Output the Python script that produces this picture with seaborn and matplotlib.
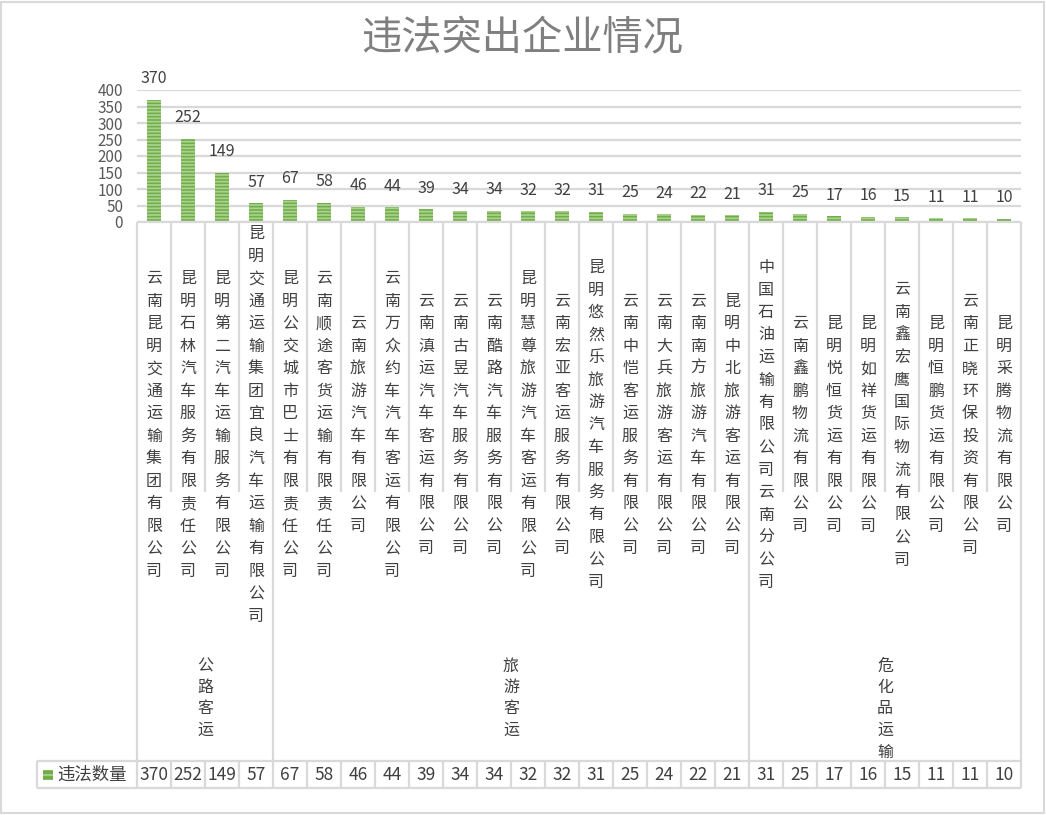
"""违法突出企业情况 - bar chart with Excel-style category table underneath."""

import matplotlib
matplotlib.use("Agg")
import matplotlib.pyplot as plt
from matplotlib.patches import Rectangle
import seaborn as sns

sns.set_style("white")
plt.rcParams['font.family'] = ['Noto Sans CJK SC', 'DejaVu Sans']
plt.rcParams['hatch.linewidth'] = 1.3

# data
companies = [
    '云南昆明交通运输集团有限公司', '昆明石林汽车服务有限责任公司', '昆明第二汽车运输服务有限公司',
    '昆明交通运输集团宜良汽车运输有限公司', '昆明公交城市巴士有限责任公司', '云南顺途客货运输有限责任公司',
    '云南旅游汽车有限公司', '云南万众约车汽车客运有限公司', '云南滇运汽车客运有限公司',
    '云南古昱汽车服务有限公司', '云南酷路汽车服务有限公司', '昆明慧尊旅游汽车客运有限公司',
    '云南宏亚客运服务有限公司', '昆明悠然乐旅游汽车服务有限公司', '云南中恺客运服务有限公司',
    '云南大兵旅游客运有限公司', '云南南方旅游汽车有限公司', '昆明中北旅游客运有限公司',
    '中国石油运输有限公司云南分公司', '云南鑫鹏物流有限公司', '昆明悦恒货运有限公司',
    '昆明如祥货运有限公司', '云南鑫宏鹰国际物流有限公司', '昆明恒鹏货运有限公司',
    '云南正晓环保投资有限公司', '昆明采腾物流有限公司',
]
counts = [370, 252, 149, 57, 67, 58, 46, 44, 39, 34, 34, 32, 32, 31, 25, 24, 22, 21,
          31, 25, 17, 16, 15, 11, 11, 10]
groups = ['公路客运', '旅游客运', '危化品运输']
group_sizes = [4, 14, 8]
series_name = '违法数量'
title = '违法突出企业情况'

GREEN = '#70AD47'
STRIPE = '#A9D18E'
LINE = '#D9D9D9'
TEXT = '#404040'

W, H = 1046, 815
fig = plt.figure(figsize=(W / 100, H / 100), dpi=100)

# main bar area (pixel layout)
left, right, top, base, bottom = 137, 1021, 90, 222, 788
ax = fig.add_axes([left / W, 1 - base / H, (right - left) / W, (base - top) / H])
sns.barplot(x=companies, y=counts, color=GREEN, saturation=1, width=0.41, ax=ax)
for p in ax.patches:
    p.set_hatch('-----')
    p.set_edgecolor(STRIPE)
    p.set_linewidth(0)
ax.bar_label(ax.containers[0], padding=9, fontsize=11.5, color=TEXT)
ax.set_xlim(-0.5, len(companies) - 0.5)
ax.set_ylim(0, 400)
ax.set_yticks(range(0, 401, 50))
ax.set_xticks([])
ax.set_xlabel('')
ax.set_ylabel('')
ax.tick_params(axis='y', length=0, pad=10, labelsize=11, labelcolor='#595959')
ax.yaxis.grid(True, color=LINE, lw=1.6)
ax.set_axisbelow(True)
sns.despine(ax=ax, left=True, bottom=True, top=True, right=True)

# category table below the bars, y in pixels below the baseline
ax2 = fig.add_axes([left / W, 1 - bottom / H, (right - left) / W, (bottom - base) / H])
ax2.set_xlim(-0.5, len(companies) - 0.5)
ax2.set_ylim(bottom - base, 0)
ax2.axis('off')

n = len(companies)
row_top, row_bot = 761 - base, bottom - base
legend_left = -0.5 - (left - 37) / ((right - left) / n)
kw = dict(color=LINE, lw=1.6, clip_on=False, solid_capstyle='butt')

ax2.plot([-0.5, n - 0.5], [0, 0], **kw)
bounds = [-0.5]
for s in group_sizes:
    bounds.append(bounds[-1] + s)
for i in range(n + 1):
    xpos = i - 0.5
    if xpos in bounds:
        ax2.plot([xpos, xpos], [0, row_bot], **kw)
    else:
        ax2.plot([xpos, xpos], [0, 492 - base], **kw)
        ax2.plot([xpos, xpos], [row_top, row_bot], **kw)
ax2.plot([legend_left, n - 0.5], [row_top, row_top], **kw)
ax2.plot([legend_left, n - 0.5], [row_bot, row_bot], **kw)
ax2.plot([legend_left, legend_left], [row_top, row_bot], **kw)

# vertical company names
step = 22.5
mid = 425 - base
for i, name in enumerate(companies):
    m = len(name)
    for k, ch in enumerate(name):
        ax2.text(i, mid + (k - (m - 1) / 2) * step, ch, ha='center', va='center',
                 fontsize=11.5, color=TEXT)

# group names
start = 0
for g, s in zip(groups, group_sizes):
    xc = start + s / 2 - 0.5
    for k, ch in enumerate(g):
        ax2.text(xc, 666 - base + k * 21.5, ch, ha='center', va='center',
                 fontsize=11.5, color=TEXT)
    start += s

# data table row
ymid = (row_top + row_bot) / 2
for i, v in enumerate(counts):
    ax2.text(i, ymid, str(v), ha='center', va='center', fontsize=12.5, color=TEXT)
unit = (right - left) / n
ax2.add_patch(Rectangle((-0.5 - (left - 43) / unit, ymid - 5), 10 / unit, 10,
                        facecolor=GREEN, edgecolor=STRIPE, hatch='---', lw=0, clip_on=False))
ax2.text(-0.5 - (left - 57) / unit, ymid, series_name, ha='left', va='center',
         fontsize=12.5, color=TEXT, clip_on=False)

# title and outer frame
fig.text(522 / W, 1 - 38 / H, title, ha='center', va='center', fontsize=29, color='#7F7F7F')
fig.patches.append(Rectangle((0.001, 0.002), 0.997, 0.996, transform=fig.transFigure,
                             fill=False, edgecolor=LINE, lw=1.5))

fig.savefig('out.png', dpi=100)
